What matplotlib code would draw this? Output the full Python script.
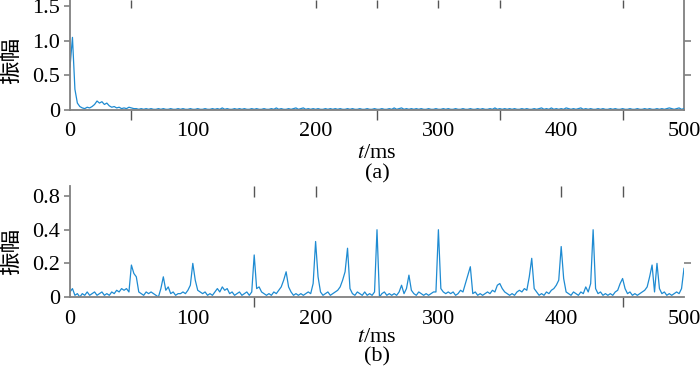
import matplotlib
import matplotlib.pyplot as plt
import numpy as np

matplotlib.use("Agg")

plt.rcParams["font.family"] = ["Liberation Serif", "Noto Sans CJK SC"]
plt.rcParams["mathtext.fontset"] = "stix"

# time axis (ms), one sample every 2 ms
t = np.arange(0, 501, 2)

# (a) amplitude
amp_a = [
    0.62, 1.05, 0.30, 0.10, 0.05, 0.03, 0.02, 0.04, 0.03, 0.05,
    0.08, 0.13, 0.10, 0.12, 0.08, 0.10, 0.06, 0.04, 0.05, 0.03,
    0.04, 0.02, 0.03, 0.02, 0.04, 0.03, 0.02, 0.02, 0.01, 0.02,
    0.01, 0.02, 0.01, 0.02, 0.01, 0.01, 0.02, 0.01, 0.02, 0.01,
    0.01, 0.02, 0.01, 0.01, 0.02, 0.01, 0.02, 0.01, 0.01, 0.02,
    0.01, 0.01, 0.02, 0.01, 0.01, 0.02, 0.01, 0.01, 0.02, 0.01,
    0.02, 0.01, 0.03, 0.01, 0.02, 0.01, 0.01, 0.02, 0.01, 0.02,
    0.01, 0.02, 0.01, 0.01, 0.02, 0.01, 0.02, 0.01, 0.01, 0.02,
    0.01, 0.01, 0.02, 0.01, 0.03, 0.01, 0.02, 0.01, 0.01, 0.02,
    0.01, 0.02, 0.03, 0.01, 0.02, 0.03, 0.01, 0.02, 0.01, 0.02,
    0.01, 0.02, 0.01, 0.01, 0.02, 0.01, 0.02, 0.01, 0.02, 0.01,
    0.02, 0.01, 0.01, 0.02, 0.01, 0.02, 0.01, 0.01, 0.02, 0.01,
    0.01, 0.02, 0.01, 0.01, 0.02, 0.01, 0.01, 0.02, 0.01, 0.01,
    0.02, 0.01, 0.03, 0.01, 0.02, 0.03, 0.01, 0.02, 0.01, 0.02,
    0.01, 0.02, 0.01, 0.02, 0.01, 0.01, 0.02, 0.01, 0.01, 0.02,
    0.01, 0.01, 0.02, 0.01, 0.02, 0.01, 0.01, 0.02, 0.01, 0.01,
    0.02, 0.01, 0.01, 0.02, 0.01, 0.01, 0.02, 0.01, 0.02, 0.01,
    0.01, 0.02, 0.01, 0.03, 0.01, 0.02, 0.01, 0.02, 0.01, 0.02,
    0.01, 0.02, 0.01, 0.01, 0.02, 0.01, 0.02, 0.01, 0.01, 0.02,
    0.01, 0.02, 0.03, 0.01, 0.02, 0.01, 0.03, 0.01, 0.02, 0.01,
    0.02, 0.01, 0.03, 0.02, 0.01, 0.02, 0.01, 0.02, 0.03, 0.01,
    0.02, 0.01, 0.02, 0.01, 0.01, 0.02, 0.01, 0.02, 0.01, 0.01,
    0.02, 0.01, 0.02, 0.01, 0.01, 0.02, 0.01, 0.01, 0.02, 0.01,
    0.01, 0.02, 0.01, 0.01, 0.02, 0.01, 0.02, 0.01, 0.01, 0.02,
    0.01, 0.02, 0.01, 0.02, 0.03, 0.02, 0.01, 0.02, 0.03, 0.01,
    0.02,
]

# (b) amplitude
amp_b = [
    0.03, 0.05, 0.01, 0.02, 0.00, 0.02, 0.01, 0.03, 0.01, 0.02,
    0.03, 0.01, 0.02, 0.03, 0.01, 0.02, 0.01, 0.03, 0.02, 0.04,
    0.03, 0.05, 0.04, 0.05, 0.03, 0.19, 0.14, 0.12, 0.03, 0.02,
    0.01, 0.03, 0.02, 0.03, 0.02, 0.01, 0.00, 0.05, 0.12, 0.04,
    0.06, 0.02, 0.03, 0.01, 0.02, 0.02, 0.03, 0.02, 0.04, 0.07,
    0.20, 0.10, 0.04, 0.03, 0.02, 0.03, 0.01, 0.02, 0.01, 0.03,
    0.05, 0.03, 0.06, 0.04, 0.05, 0.02, 0.03, 0.01, 0.02, 0.03,
    0.01, 0.02, 0.03, 0.01, 0.03, 0.25, 0.05, 0.06, 0.03, 0.02,
    0.01, 0.02, 0.01, 0.03, 0.02, 0.04, 0.06, 0.10, 0.15, 0.06,
    0.03, 0.01, 0.02, 0.01, 0.02, 0.01, 0.02, 0.03, 0.02, 0.08,
    0.33, 0.12, 0.03, 0.01, 0.02, 0.03, 0.01, 0.02, 0.03, 0.04,
    0.06, 0.10, 0.15, 0.29, 0.05, 0.02, 0.01, 0.03, 0.02, 0.01,
    0.03, 0.01, 0.02, 0.01, 0.03, 0.40, 0.00, 0.02, 0.03, 0.01,
    0.02, 0.01, 0.02, 0.01, 0.03, 0.07, 0.02, 0.05, 0.13, 0.04,
    0.02, 0.01, 0.03, 0.02, 0.01, 0.02, 0.01, 0.02, 0.03, 0.03,
    0.40, 0.05, 0.03, 0.02, 0.03, 0.02, 0.03, 0.01, 0.02, 0.04,
    0.03, 0.08, 0.13, 0.18, 0.02, 0.03, 0.01, 0.02, 0.01, 0.02,
    0.03, 0.02, 0.04, 0.03, 0.07, 0.08, 0.05, 0.03, 0.02, 0.01,
    0.02, 0.01, 0.03, 0.04, 0.03, 0.05, 0.04, 0.12, 0.23, 0.05,
    0.03, 0.01, 0.02, 0.01, 0.03, 0.02, 0.04, 0.05, 0.07, 0.10,
    0.30, 0.11, 0.03, 0.02, 0.01, 0.03, 0.02, 0.01, 0.03, 0.02,
    0.06, 0.03, 0.08, 0.40, 0.05, 0.02, 0.03, 0.01, 0.02, 0.01,
    0.02, 0.01, 0.03, 0.04, 0.08, 0.11, 0.05, 0.02, 0.03, 0.01,
    0.02, 0.01, 0.02, 0.03, 0.04, 0.06, 0.12, 0.19, 0.03, 0.20,
    0.05, 0.02, 0.03, 0.01, 0.02, 0.01, 0.02, 0.03, 0.02, 0.05,
    0.17,
]

x_labels = [0, 100, 200, 300, 400, 500]

a_yticks = [0, 0.5, 1.0, 1.5]
a_yticklabels = ["0", "0.5", "1.0", "1.5"]
a_marks_bottom = [50, 200, 250, 300, 350, 450, 500]
a_marks_top = [50, 200, 250, 300, 350, 450]
a_marks_right = [0.5, 1.0]

b_yticks = [0, 0.2, 0.4, 0.6]
b_yticklabels = ["0", "0.2", "0.4", "0.8"]
b_marks_bottom = [150, 200, 400, 450]
b_marks_top = [150, 200, 400, 450]
b_marks_right = [0.2]

LINE = "#1e8bd2"
AXIS = "#808080"
TICK = "#555555"
W, H = 700, 370


def panel(ax, amp, ylim, yticks, yticklabels, bottom, top, right,
          right_spine, top_len, ylabel_y):
    ax.plot(t, amp, color=LINE, lw=0.9)
    ax.set_xlim(0, 500)
    ax.set_ylim(*ylim)
    for side in ("top", "right"):
        ax.spines[side].set_visible(False)
    for side in ("left", "bottom"):
        ax.spines[side].set_color(AXIS)
        ax.spines[side].set_linewidth(1.3)

    ax.set_xticks(x_labels)
    ax.set_xticklabels([str(v) for v in x_labels])
    ax.set_xticks(bottom, minor=True)
    ax.tick_params(axis="x", which="major", length=0, pad=9, labelsize=16)
    ax.tick_params(axis="x", which="minor", direction="out", length=7,
                   width=1, color=TICK)
    ax.set_yticks(yticks)
    ax.set_yticklabels(yticklabels)
    ax.tick_params(axis="y", direction="out", length=4, width=1.2,
                   color=AXIS, labelsize=16, pad=3)

    sx = ax.secondary_xaxis("top")
    sx.set_xticks(top)
    sx.tick_params(direction="in", length=top_len, width=1, color=TICK,
                   labeltop=False)
    sx.spines["top"].set_visible(False)

    sy = ax.secondary_yaxis("right")
    sy.set_yticks(right)
    sy.tick_params(direction="out", length=5, width=1.2, color=AXIS,
                   labelright=False)
    sy.spines["right"].set_visible(right_spine)
    sy.spines["right"].set_color(AXIS)
    sy.spines["right"].set_linewidth(1.3)

    ax.set_ylabel("振幅", family="Noto Sans CJK SC", fontsize=17)
    ax.yaxis.set_label_coords(-0.078, ylabel_y)


fig = plt.figure(figsize=(7, 3.7), dpi=100)
ax_a = fig.add_axes((70 / W, 1 - 110 / H, 614 / W, 110 / H))
ax_b = fig.add_axes((70 / W, 1 - 297 / H, 614 / W, 111 / H))

panel(ax_a, amp_a, (0, 1.59), a_yticks, a_yticklabels, a_marks_bottom,
      a_marks_top, a_marks_right, True, 6, 0.45)
panel(ax_b, amp_b, (0, 0.66), b_yticks, b_yticklabels, b_marks_bottom,
      b_marks_top, b_marks_right, False, 8, 0.41)

for label, y_t, y_p in (("(a)", 154, 174), ("(b)", 337, 357)):
    fig.text(377 / W, 1 - y_t / H, "$t$/ms", fontsize=16,
             ha="center", va="center")
    fig.text(377 / W, 1 - y_p / H, label, fontsize=16,
             ha="center", va="center")

fig.savefig("out.png", dpi=100)
